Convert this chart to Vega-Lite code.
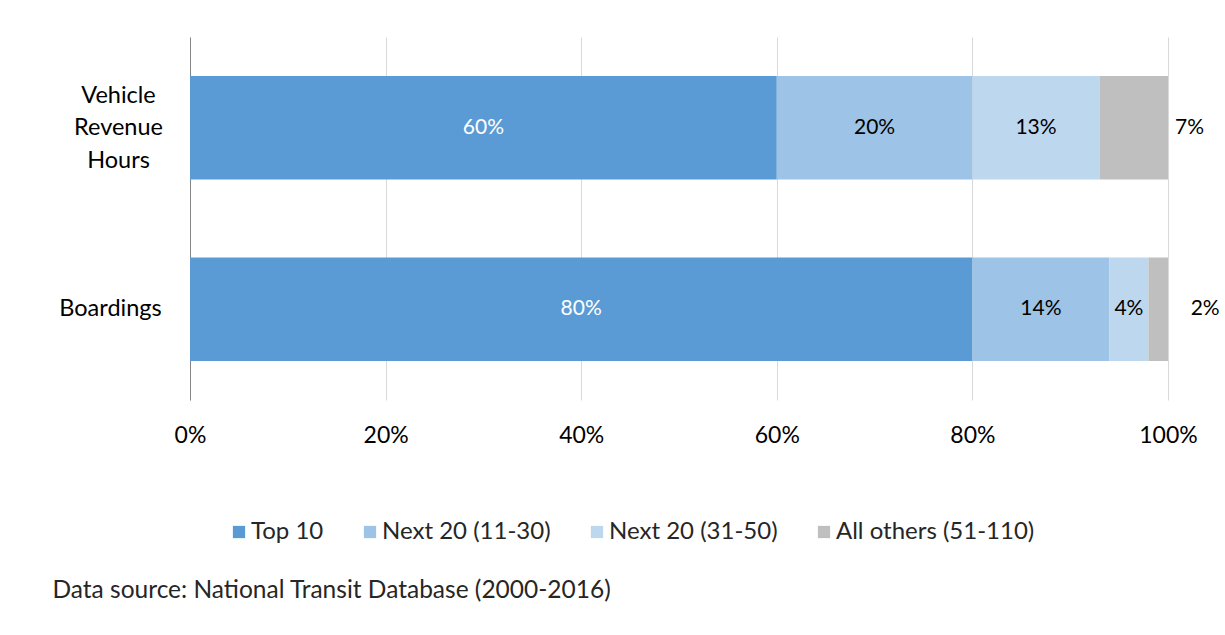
{
  "$schema": "https://vega.github.io/schema/vega-lite/v6.json",
  "width": 978,
  "height": 363,
  "autosize": {"type": "none"},
  "padding": {"left": 190, "top": 37, "right": 57, "bottom": 235},
  "background": "white",
  "config": {"view": {"stroke": null}, "font": "Lato"},
  "data": {
    "values": [
      {"measure": "Vehicle Revenue Hours", "group": "Top 10", "value": 60},
      {"measure": "Vehicle Revenue Hours", "group": "Next 20 (11-30)", "value": 20},
      {"measure": "Vehicle Revenue Hours", "group": "Next 20 (31-50)", "value": 13},
      {"measure": "Vehicle Revenue Hours", "group": "All others (51-110)", "value": 7},
      {"measure": "Boardings", "group": "Top 10", "value": 80},
      {"measure": "Boardings", "group": "Next 20 (11-30)", "value": 14},
      {"measure": "Boardings", "group": "Next 20 (31-50)", "value": 4},
      {"measure": "Boardings", "group": "All others (51-110)", "value": 2}
    ]
  },
  "transform": [
    {"calculate": "indexof(['Top 10','Next 20 (11-30)','Next 20 (31-50)','All others (51-110)'], datum.group)", "as": "k"}
  ],
  "encoding": {
    "y": {
      "field": "measure",
      "type": "nominal",
      "sort": ["Vehicle Revenue Hours", "Boardings"],
      "scale": {"paddingInner": 0.43, "paddingOuter": 0.215},
      "axis": {
        "title": null,
        "domainColor": "#868686",
        "domainWidth": 1,
        "ticks": false,
        "labelExpr": "split(datum.label, ' ')",
        "labelAlign": "center",
        "labelBaseline": "middle",
        "labelPadding": {"condition": {"test": "datum.label == 'Boardings'", "value": 80}, "value": 72},
        "labelOffset": {"condition": {"test": "datum.label == 'Boardings'", "value": 0}, "value": -32},
        "labelFontSize": 23.5,
        "labelLineHeight": 32.5,
        "labelColor": "#000000",
        "labelLimit": 0
      }
    }
  },
  "layer": [
    {
      "mark": {"type": "bar"},
      "encoding": {
        "x": {
          "field": "value",
          "type": "quantitative",
          "stack": "zero",
          "scale": {"domain": [0, 100]},
          "axis": {
            "values": [0, 20, 40, 60, 80, 100],
            "labelExpr": "datum.value + '%'",
            "grid": true,
            "gridColor": "#D9D9D9",
            "domain": false,
            "ticks": false,
            "labelFontSize": 23,
            "labelBaseline": "middle",
            "labelPadding": 35,
            "labelColor": "#000000",
            "labelFlush": false,
            "title": "Data source: National Transit Database (2000-2016)",
            "titleX": -138,
            "titleY": 190,
            "titleAlign": "left",
            "titleBaseline": "middle",
            "titleFontWeight": "normal",
            "titleFontSize": 24.5,
            "titleColor": "#262626"
          }
        },
        "color": {
          "field": "group",
          "type": "nominal",
          "sort": ["Top 10", "Next 20 (11-30)", "Next 20 (31-50)", "All others (51-110)"],
          "scale": {
            "domain": ["Top 10", "Next 20 (11-30)", "Next 20 (31-50)", "All others (51-110)"],
            "range": ["#5B9BD5", "#9DC3E6", "#BDD7EE", "#BFBFBF"]
          },
          "legend": {
            "orient": "none",
            "legendX": 37,
            "legendY": 483,
            "direction": "horizontal",
            "title": null,
            "symbolType": "square",
            "symbolSize": 150,
            "symbolStrokeWidth": 0,
            "labelFontSize": 24,
            "labelColor": "#262626",
            "labelOffset": 0,
            "columnPadding": 34,
            "labelLimit": 0
          }
        },
        "order": {"field": "k", "type": "quantitative"}
      }
    },
    {
      "transform": [
        {"stack": "value", "groupby": ["measure"], "sort": [{"field": "k"}], "as": ["v0", "v1"]},
        {"calculate": "datum.k == 3 ? 100 + (datum.measure == 'Boardings' ? 3.8 : 2.2) : (datum.v0 + datum.v1) / 2", "as": "mid"},
        {"calculate": "datum.value + '%'", "as": "lbl"}
      ],
      "mark": {"type": "text", "fontSize": 21, "baseline": "middle", "align": "center"},
      "encoding": {
        "x": {"field": "mid", "type": "quantitative"},
        "text": {"field": "lbl"},
        "color": {"condition": {"test": "datum.k == 0", "value": "#FFFFFF"}, "value": "#000000"}
      }
    }
  ]
}
